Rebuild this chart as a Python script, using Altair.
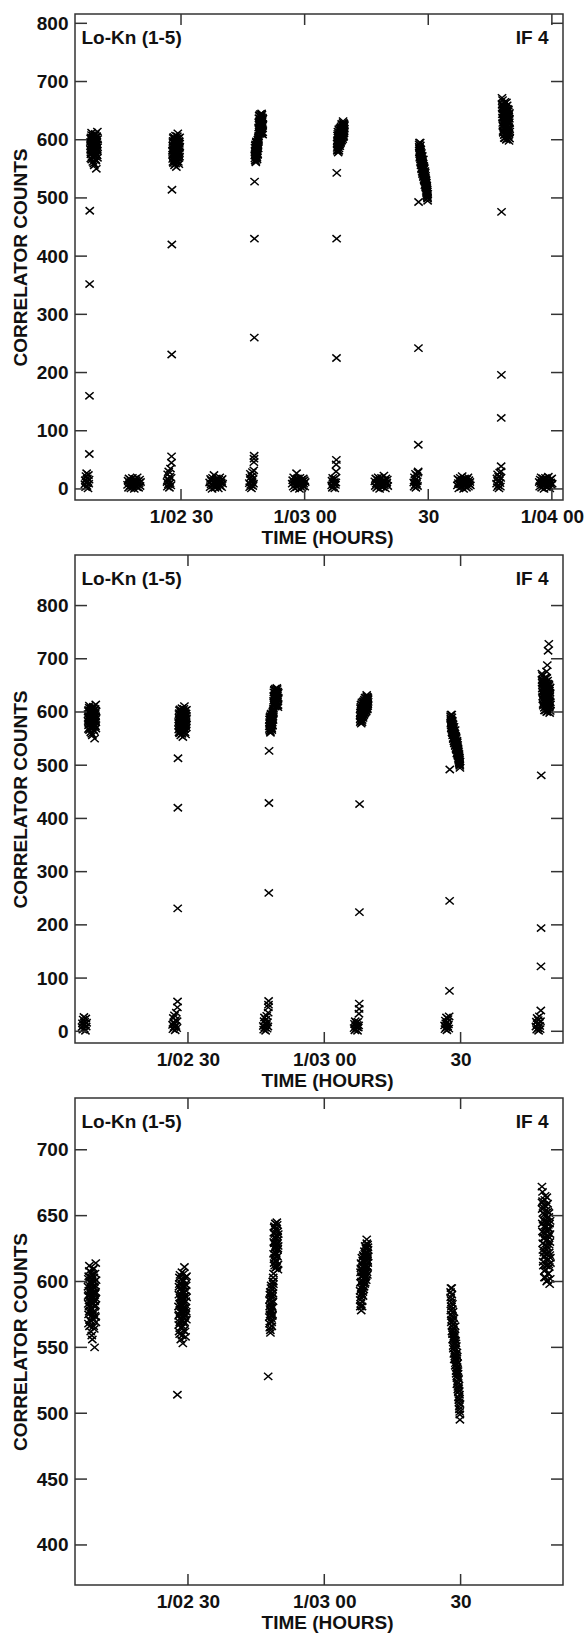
import altair as alt
import pandas as pd

# ---------------- data ----------------
# start time (hours, day 1/) of each on-source scan and each off-source scan
SRC_START_H = [2.1114, 2.4434, 2.7764, 3.1094, 3.4414, 3.7764]
OFF_START_H = [2.2838, 2.6158, 2.9498, 3.2838, 3.6178, 3.9488]

# record time offsets (seconds) inside a scan
ZERO_OFFSETS_S = [0, 5, 10, 15, 20, 25, 30, 35, 40, 45, 50, 55, 60]
RAMP_OFFSETS_S = [64, 66, 68, 70, 72, 74, 76]
MAIN_START_S = 79
MAIN_OFFSETS_S = [0, 3, 6, 9, 12, 15, 18, 21, 24, 27, 30, 33, 36, 39, 42, 45, 48, 51, 54, 57,
                  60, 63, 66, 69, 72, 75, 78, 81, 84, 87, 90, 93, 96, 99, 102, 105, 108, 111,
                  114, 117, 120, 123]
SECOND_RECORD_S = 1.5
OFF_OFFSETS_S = [0, 7, 14, 21, 28, 35, 42, 49, 56, 63, 70, 77, 84, 91, 98, 105, 112, 119, 126,
                 133, 140, 147, 154, 161, 168, 175, 182, 189]

# near-zero records at the start of each on-source scan
ZERO_1 = [8, 15, 3, 22, 11, 27, 5, 18, 13, 1, 24, 9, 16]
ZERO_2 = [12, 4, 25, 17, 8, 30, 14, 2, 21, 10, 35, 6, 19]
ZERO_3 = [10, 3, 19, 26, 7, 15, 1, 22, 12, 29, 5, 17, 9]
ZERO_4 = [6, 14, 2, 19, 10, 4, 16, 8, 12, 1, 18, 7, 11]
ZERO_5 = [11, 4, 20, 15, 7, 26, 2, 17, 9, 23, 13, 5, 28]
ZERO_6 = [9, 18, 3, 25, 13, 6, 21, 1, 15, 28, 10, 4, 19]
ZERO_VALUES = [ZERO_1, ZERO_2, ZERO_3, ZERO_4, ZERO_5, ZERO_6]

# ramp-up records (per panel, as plotted)
RAMP_P1 = [[60, 160, 352, 478], [45, 56, 231, 420, 514], [32, 46, 52, 57, 260, 430, 528],
           [30, 42, 50, 225, 430, 543], [30, 76, 242, 493], [30, 39, 122, 196, 476]]
RAMP_P2 = [[], [45, 56, 231, 420, 513], [35, 45, 50, 57, 260, 429, 527],
           [33, 42, 52, 224, 427], [76, 245, 492], [39, 122, 194, 481]]
RAMP_P3 = [[], [514], [528], [], [], []]

# on-source main records (A and interleaved B records)
MAIN_1A = [596, 583, 568, 604, 590, 577, 612, 588, 571, 599, 585, 593, 562, 607, 580, 595, 574, 601,
           589, 556, 598, 584, 609, 577, 592, 566, 603, 586, 595, 550, 581, 606, 591, 573, 614, 587]
MAIN_1B = [589, 602, 575, 593, 581, 608, 566, 597, 586, 578, 603, 591, 570, 584, 599, 588, 559, 594,
           605, 579, 587, 572, 596, 583, 610, 576, 590, 564, 600, 585, 574, 597, 582, 592, 569, 601]
MAIN_2A = [581, 567, 596, 575, 603, 560, 588, 572, 594, 583, 556, 599, 578, 590, 565, 607, 584, 570,
           597, 553, 586, 576, 601, 563, 592, 580, 611, 569, 589, 574, 598, 558, 585, 593, 577, 604]
MAIN_2B = [574, 590, 562, 598, 583, 569, 605, 577, 587, 565, 595, 581, 571, 602, 586, 559, 593, 579,
           566, 600, 582, 591, 573, 606, 584, 568, 596, 578, 562, 589, 603, 575, 580, 597, 571, 588]
MAIN_3A = [573, 586, 565, 579, 592, 561, 583, 570, 597, 577, 588, 566, 581, 594, 575, 600, 591, 603,
           598, 621, 637, 614, 629, 642, 618, 633, 610, 626, 640, 622, 615, 635, 628, 645, 612, 631,
           624, 638, 609, 627]
MAIN_3B = [568, 581, 590, 575, 563, 587, 578, 595, 572, 584, 569, 591, 580, 574, 589, 596, 585, 600,
           606, 630, 617, 641, 625, 612, 636, 620, 644, 627, 616, 633, 621, 639, 611, 629, 643, 619,
           634, 625, 613, 636]
MAIN_4A = [593, 581, 607, 588, 614, 578, 600, 591, 618, 585, 604, 596, 611, 589, 620, 602, 594, 615,
           606, 623, 598, 612, 627, 603, 617, 609, 625, 601, 619, 632, 610, 621, 605, 628, 614, 624]
MAIN_4B = [586, 599, 583, 610, 595, 604, 590, 613, 581, 607, 597, 616, 592, 608, 600, 619, 605, 596,
           612, 603, 621, 608, 599, 616, 611, 626, 604, 618, 612, 629, 607, 622, 616, 611, 626, 619]
MAIN_5A = [592, 578, 586, 569, 581, 595, 562, 574, 583, 556, 570, 577, 549, 565, 558, 572, 541, 560,
           553, 547, 566, 538, 555, 544, 532, 551, 540, 528, 546, 535, 524, 538, 520, 530, 516, 526,
           510, 521, 505, 514, 501, 495]
MAIN_5B = [588, 595, 575, 584, 571, 590, 566, 579, 560, 573, 563, 551, 568, 557, 545, 562, 550, 556,
           543, 559, 536, 549, 541, 553, 530, 544, 537, 522, 534, 543, 527, 518, 532, 523, 512, 519,
           508, 517, 503, 511, 499, 507]
MAIN_6A = [672, 655, 638, 661, 624, 647, 612, 633, 658, 619, 642, 603, 651, 628, 665, 636, 609, 645,
           621, 654, 631, 600, 648, 616, 639, 659, 626, 606, 643, 634, 613, 652, 622, 640, 598, 630,
           646, 618]
MAIN_6B = [660, 644, 668, 629, 652, 615, 637, 656, 622, 646, 608, 633, 662, 619, 641, 603, 650, 627,
           657, 612, 638, 664, 624, 645, 601, 632, 653, 617, 640, 606, 649, 628, 611, 644, 620, 636,
           602, 614]
MAIN_A = [MAIN_1A, MAIN_2A, MAIN_3A, MAIN_4A, MAIN_5A, MAIN_6A]
MAIN_B = [MAIN_1B, MAIN_2B, MAIN_3B, MAIN_4B, MAIN_5B, MAIN_6B]

# extra high records of the last scan seen only in the middle panel
EXTRA_P2_SCAN6 = [676, 688, 715, 728]
EXTRA_P2_OFFSETS_S = [140, 150, 160, 170]

# off-source scans (top panel only)
OFF_1 = [7, 14, 2, 18, 10, 5, 16, 1, 12, 8, 19, 4, 13, 9, 0, 17, 6, 11, 15, 3, 20, 8, 13, 2, 10, 16, 5, 12]
OFF_2 = [11, 3, 17, 8, 14, 0, 19, 6, 12, 24, 9, 2, 15, 7, 18, 4, 13, 10, 1, 16, 8, 20, 5, 14, 11, 3, 17, 9]
OFF_3 = [9, 15, 4, 20, 12, 1, 17, 7, 13, 27, 3, 18, 10, 6, 14, 0, 19, 8, 11, 16, 2, 13, 5, 18, 9, 15, 4, 12]
OFF_4 = [13, 5, 18, 9, 2, 16, 11, 20, 7, 14, 0, 17, 10, 4, 19, 8, 12, 3, 15, 23, 6, 14, 1, 18, 9, 11, 16, 5]
OFF_5 = [6, 17, 10, 1, 15, 8, 19, 12, 3, 14, 22, 7, 16, 0, 11, 18, 5, 13, 9, 2, 17, 10, 20, 4, 15, 8, 12, 6]
OFF_6 = [12, 4, 16, 9, 20, 2, 14, 7, 18, 11, 0, 15, 6, 19, 10, 3, 17, 13, 8, 21, 5, 14, 1, 16, 11, 7, 18, 9]
OFF_VALUES = [OFF_1, OFF_2, OFF_3, OFF_4, OFF_5, OFF_6]

# axes
X_TICKS_P1 = [2.5, 3.0, 3.5, 4.0]
X_LABELS_P1 = ["1/02 30", "1/03 00", "30", "1/04 00"]
X_TICKS_P23 = [2.5, 3.0, 3.5]
X_LABELS_P23 = ["1/02 30", "1/03 00", "30"]
Y_TICKS_P12 = [0, 100, 200, 300, 400, 500, 600, 700, 800]
Y_TICKS_P3 = [400, 450, 500, 550, 600, 650, 700]
X_DOMAIN_P1 = [2.0712, 4.045]
X_DOMAIN_P23 = [2.0856, 3.8756]
Y_DOMAIN_P1 = [-19, 816]
Y_DOMAIN_P2 = [-22, 895]
Y_DOMAIN_P3 = [369.6, 739.3]
LABEL_LEFT = "Lo-Kn (1-5)"
LABEL_RIGHT = "IF 4"

# ---------------- build tables ----------------
def build(panel):
    rows = []
    ramps = {1: RAMP_P1, 2: RAMP_P2, 3: RAMP_P3}[panel]
    for k in range(6):
        t0 = SRC_START_H[k]
        if panel in (1, 2):
            for off, v in zip(ZERO_OFFSETS_S, ZERO_VALUES[k]):
                rows.append((t0 + off / 3600.0, v))
        for off, v in zip(RAMP_OFFSETS_S, ramps[k]):
            rows.append((t0 + off / 3600.0, v))
        for off, v in zip(MAIN_OFFSETS_S, MAIN_A[k]):
            rows.append((t0 + (MAIN_START_S + off) / 3600.0, v))
        for off, v in zip(MAIN_OFFSETS_S, MAIN_B[k]):
            rows.append((t0 + (MAIN_START_S + off + SECOND_RECORD_S) / 3600.0, v))
    if panel == 2:
        for off, v in zip(EXTRA_P2_OFFSETS_S, EXTRA_P2_SCAN6):
            rows.append((SRC_START_H[5] + off / 3600.0, v))
    if panel == 1:
        for k in range(6):
            for off, v in zip(OFF_OFFSETS_S, OFF_VALUES[k]):
                rows.append((OFF_START_H[k] + off / 3600.0, v))
    return pd.DataFrame(rows, columns=["t", "v"])


FONT = "Liberation Sans"
FS = 19
TXT = "#111111"
FRAME = "#333333"
XPATH = "M-1.15,-1L1.15,1M-1.15,1L1.15,-1"
W = 488


def panel(df, xdom, xticks, xlabels, ydom, yticks, h):
    xs = alt.Scale(domain=xdom, nice=False, zero=False)
    ys = alt.Scale(domain=ydom, nice=False, zero=False)
    expr = " : ".join(
        f"abs(datum.value - {v}) < 0.001 ? '{l}'" for v, l in zip(xticks, xlabels)
    ) + " : ''"
    xaxis = alt.Axis(values=xticks, labelExpr=expr, ticks=False, tickSize=0, domain=False,
                     grid=False, labelFont=FONT, labelFontSize=FS, labelFontWeight="bold",
                     labelColor=TXT, labelPadding=7, labelFlush=False, labelOverlap=False,
                     title="TIME (HOURS)", titleFont=FONT, titleFontSize=FS,
                     titleFontWeight="bold", titleColor=TXT, titlePadding=2, titleX=252)
    yaxis = alt.Axis(values=yticks, format="d", ticks=False, tickSize=0, domain=False,
                     grid=False, labelFont=FONT, labelFontSize=FS, labelFontWeight="bold",
                     labelColor=TXT, labelPadding=7, labelOverlap=False,
                     title="CORRELATOR COUNTS", titleFont=FONT, titleFontSize=FS,
                     titleFontWeight="bold", titleColor=TXT, titlePadding=6)
    df = df[(df.v >= ydom[0]) & (df.v <= ydom[1])]
    X = alt.X("t:Q", scale=xs, axis=xaxis)
    Y = alt.Y("v:Q", scale=ys, axis=yaxis)
    pts = alt.Chart(df).mark_point(
        shape=XPATH, filled=False, color="black", strokeWidth=1.5, size=52, opacity=1
    ).encode(x=X, y=Y)

    ydf = pd.DataFrame({"v": yticks})
    xdf = pd.DataFrame({"t": xticks})
    rule = dict(color=FRAME, strokeWidth=1.5)
    lt = alt.Chart(ydf).mark_rule(**rule).encode(y=Y, x=alt.value(0), x2=alt.value(12))
    rt = alt.Chart(ydf).mark_rule(**rule).encode(y=Y, x=alt.value(W - 12), x2=alt.value(W))
    bt = alt.Chart(xdf).mark_rule(**rule).encode(x=X, y=alt.value(h - 11), y2=alt.value(h))
    tt = alt.Chart(xdf).mark_rule(**rule).encode(x=X, y=alt.value(0), y2=alt.value(11))
    one = pd.DataFrame({"a": [0]})
    tl = alt.Chart(one).mark_text(text=LABEL_LEFT, align="left", baseline="middle", font=FONT,
                                  fontSize=FS, fontWeight="bold", color=TXT).encode(
        x=alt.value(6.5), y=alt.value(24))
    tr = alt.Chart(one).mark_text(text=LABEL_RIGHT, align="right", baseline="middle", font=FONT,
                                  fontSize=FS, fontWeight="bold", color=TXT).encode(
        x=alt.value(W - 14.5), y=alt.value(24))
    return alt.layer(pts, lt, rt, bt, tt, tl, tr).properties(width=W, height=h)


p1 = panel(build(1), X_DOMAIN_P1, X_TICKS_P1, X_LABELS_P1, Y_DOMAIN_P1, Y_TICKS_P12, 486)
p2 = panel(build(2), X_DOMAIN_P23, X_TICKS_P23, X_LABELS_P23, Y_DOMAIN_P2, Y_TICKS_P12, 488)
p3 = panel(build(3), X_DOMAIN_P23, X_TICKS_P23, X_LABELS_P23, Y_DOMAIN_P3, Y_TICKS_P3, 487)

chart = alt.vconcat(p1, p2, p3, spacing=5).properties(
    padding={"left": 10, "top": 12, "right": 0, "bottom": 0},
    background="white",
).configure_view(stroke=FRAME, strokeWidth=1.5)

chart.save("out.html", embed_options={"renderer": "svg", "actions": False})
